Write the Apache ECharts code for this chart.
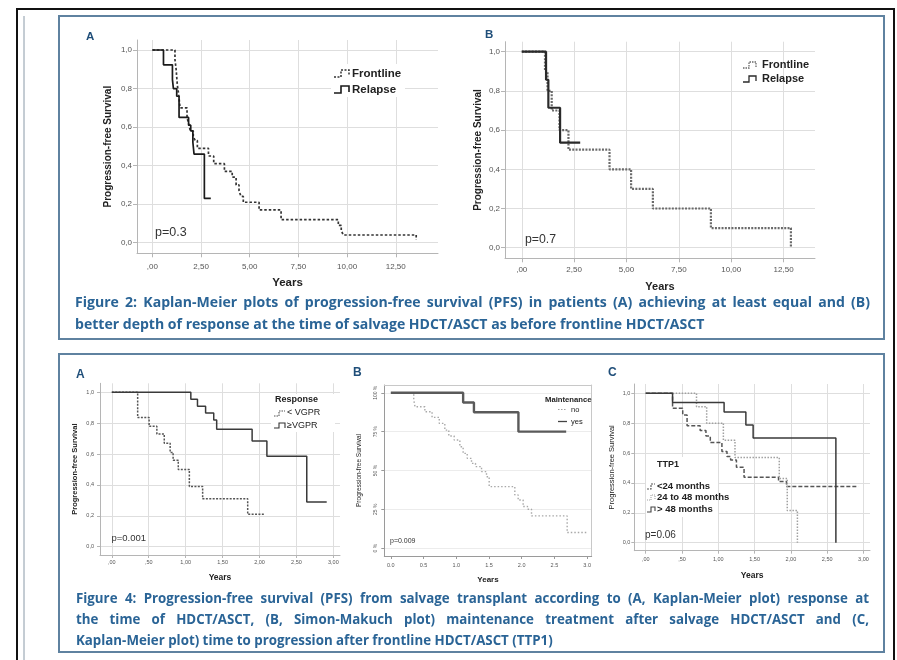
<!DOCTYPE html>
<html><head><meta charset="utf-8">
<script src="https://cdn.jsdelivr.net/npm/echarts@6/dist/echarts.min.js"></script>
<style>html,body{margin:0;padding:0;background:#fff}#c{width:897px;height:660px}</style>
</head><body><div id="c"></div>
<script>
// ---------- tick values ----------
const yearsWideTicks = [0, 2.5, 5, 7.5, 10, 12.5];
const yearsShortTicks = [0, 0.5, 1, 1.5, 2, 2.5, 3];
const survTicks = [0, 0.2, 0.4, 0.6, 0.8, 1.0];
const pctTicks = [0, 0.25, 0.5, 0.75, 1.0];

// ---------- Figure 2A : [years, survival] ----------
const fig2A_frontline = [[0,1],[1.16,0.95],[1.22,0.90],[1.28,0.82],[1.35,0.77],[1.42,0.70],[1.78,0.65],[1.88,0.61],[1.95,0.58],[2.10,0.55],[2.20,0.53],[2.31,0.49],[2.88,0.45],[3.15,0.41],[3.70,0.37],[4.10,0.34],[4.30,0.30],[4.45,0.27],[4.55,0.24],[4.67,0.21],[5.48,0.17],[6.61,0.12],[9.55,0.09],[9.70,0.065],[9.80,0.04],[13.55,0.015]];
const fig2A_relapse = [[0,1],[0.57,0.923],[1.03,0.846],[1.08,0.80],[1.25,0.76],[1.37,0.65],[1.86,0.61],[1.97,0.58],[2.08,0.52],[2.14,0.46],[2.67,0.23],[3.00,0.23]];

// ---------- Figure 2B ----------
const fig2B_frontline = [[0,1],[1.11,0.9],[1.23,0.8],[1.43,0.7],[1.80,0.6],[2.23,0.5],[4.19,0.4],[5.22,0.3],[6.26,0.2],[9.03,0.1],[12.85,0.0]];
const fig2B_relapse = [[0,1],[1.16,0.857],[1.27,0.714],[1.83,0.536],[2.79,0.536]];

// ---------- Figure 4A ----------
const fig4A_ltVGPR = [[0,1],[0.35,0.836],[0.505,0.78],[0.61,0.73],[0.71,0.67],[0.79,0.61],[0.83,0.56],[0.90,0.50],[1.05,0.39],[1.23,0.31],[1.84,0.21],[2.07,0.21]];
const fig4A_geVGPR = [[0,1],[1.07,0.955],[1.16,0.91],[1.27,0.865],[1.38,0.82],[1.42,0.76],[1.90,0.685],[2.10,0.585],[2.64,0.29],[2.91,0.29]];

// ---------- Figure 4B ----------
const fig4B_no = [[0,1],[0.35,0.955],[0.37,0.91],[0.52,0.878],[0.63,0.842],[0.74,0.803],[0.825,0.76],[0.886,0.722],[0.968,0.696],[1.055,0.653],[1.105,0.61],[1.167,0.578],[1.233,0.546],[1.294,0.525],[1.386,0.493],[1.462,0.46],[1.503,0.396],[1.895,0.343],[1.946,0.31],[2.022,0.268],[2.089,0.251],[2.15,0.208],[2.695,0.101],[2.99,0.101]];
const fig4B_yes = [[0,1],[1.105,0.9375],[1.27,0.875],[1.95,0.75],[2.68,0.75]];

// ---------- Figure 4C ----------
const fig4C_lt24 = [[0,1],[0.37,0.90],[0.51,0.855],[0.57,0.783],[0.75,0.75],[0.83,0.714],[0.89,0.67],[1.05,0.61],[1.12,0.576],[1.17,0.554],[1.25,0.504],[1.355,0.4375],[1.83,0.41],[1.94,0.375],[2.93,0.375]];
const fig4C_24to48 = [[0,1],[0.70,0.91],[0.84,0.80],[1.07,0.685],[1.23,0.57],[1.84,0.43],[1.95,0.215],[2.09,0.0]];
const fig4C_gt48 = [[0,1],[0.37,0.9375],[1.08,0.875],[1.38,0.7875],[1.48,0.70],[2.62,0.0]];

// ---------- texts ----------
const fig2Caption = ["Figure 2: Kaplan-Meier plots of progression-free survival (PFS) in patients (A) achieving at least equal and (B)",
  "better depth of response at the time of salvage HDCT/ASCT as before frontline HDCT/ASCT"];
const fig4Caption = ["Figure 4: Progression-free survival (PFS) from salvage transplant according to (A, Kaplan-Meier plot) response at",
  "the time of HDCT/ASCT, (B, Simon-Makuch plot) maintenance treatment after salvage HDCT/ASCT and (C,",
  "Kaplan-Meier plot) time to progression after frontline HDCT/ASCT (TTP1)"];

// ---------- formatters ----------
const fmtEuro2 = v => { let s = v.toFixed(2).replace('.', ','); if (s.startsWith('0,')) s = s.slice(1); return s; };
const fmtEuro1 = v => v.toFixed(1).replace('.', ',');
const fmtDot1 = v => v.toFixed(1);
const fmtPct = v => Math.round(v * 100) + ' %';

const FONT = '"Liberation Sans", Arial, sans-serif';

function xAx(gi, min, max, ticks, fmt, o) {
  return {
    type: 'value', gridIndex: gi, min, max,
    axisLine: { show: true, onZero: false, lineStyle: { color: o.axisColor || '#b5b5b5', width: 1 } },
    axisTick: { show: true, customValues: ticks, length: o.tickLen || 4, lineStyle: { color: o.axisColor || '#b5b5b5' } },
    axisLabel: { customValues: ticks, formatter: fmt, fontSize: o.fs, color: '#555', margin: o.margin, fontFamily: FONT },
    splitLine: { show: o.split !== false, lineStyle: { color: '#dedede', width: 1 } },
    name: 'Years', nameLocation: 'middle', nameGap: o.nameGap, nameMoveOverlap: false,
    nameTextStyle: { fontSize: o.nameFs, fontWeight: 'bold', color: '#222', fontFamily: FONT }
  };
}
function yAx(gi, min, max, ticks, fmt, o) {
  return {
    type: 'value', gridIndex: gi, min, max,
    axisLine: { show: true, onZero: false, lineStyle: { color: o.axisColor || '#b5b5b5', width: 1 } },
    axisTick: { show: true, customValues: ticks, length: o.tickLen || 4, lineStyle: { color: o.axisColor || '#b5b5b5' } },
    axisLabel: { customValues: ticks, formatter: fmt, fontSize: o.fs, color: '#555', margin: o.margin, rotate: o.rotate || 0, fontFamily: FONT },
    splitLine: { show: true, lineStyle: { color: '#dedede', width: 1 } },
    name: 'Progression-free Survival', nameLocation: 'middle', nameGap: o.nameGap, nameMoveOverlap: false,
    nameTextStyle: { fontSize: o.nameFs, fontWeight: o.nameBold ? 'bold' : 'normal', color: '#222', fontFamily: FONT }
  };
}
function km(gi, data, color, width, dash, z) {
  return { type: 'line', xAxisIndex: gi, yAxisIndex: gi, data, step: 'end', symbol: 'none', silent: true,
    animation: false, z: z || 2, lineStyle: { color, width, type: dash || 'solid', cap: 'butt' } };
}

// ---------- graphic helpers ----------
function T(text, x, y, size, o) {
  o = o || {};
  return { type: 'text', x, y, z: 6, silent: true,
    style: { text, fill: o.fill || '#222', font: (o.bold ? 'bold ' : '') + size + 'px ' + (o.family || FONT),
      textAlign: o.align || 'left', textVerticalAlign: 'middle' } };
}
function PL(points, color, width, dash) {
  return { type: 'polyline', z: 6, silent: true, shape: { points },
    style: { stroke: color, lineWidth: width, fill: null, lineDash: dash || null } };
}
function R(x, y, w, h, stroke, lw, fill, z) {
  return { type: 'rect', z: z || 1, silent: true, shape: { x, y, width: w, height: h },
    style: { stroke: stroke || null, lineWidth: lw || 0, fill: fill || 'transparent' } };
}
function L(x1, y1, x2, y2, color, lw) {
  return { type: 'line', z: 1, silent: true, shape: { x1, y1, x2, y2 }, style: { stroke: color, lineWidth: lw } };
}

// caption justification
const measCtx = document.createElement('canvas').getContext('2d');
const CAP_FAMILY = '"Open Sans", "Noto Sans", sans-serif';
function tw(t, s) { measCtx.font = 'bold ' + s + 'px ' + CAP_FAMILY; return measCtx.measureText(t).width; }
function caption(lines, x0, x1, ys, lastW) {
  const last = lines[lines.length - 1];
  let s = 13 * lastW / tw(last, 13);
  for (let i = 0; i < lines.length - 1; i++) {
    const words = lines[i].split(' ');
    const sum1 = words.reduce((a, w) => a + tw(w, 1), 0);
    s = Math.min(s, (x1 - x0) / (sum1 + 0.2 * (words.length - 1)));
  }
  const els = [];
  const col = '#2a6496';
  lines.forEach((ln, i) => {
    if (i === lines.length - 1) { els.push(T(ln, x0, ys[i], s, { bold: true, fill: col, family: CAP_FAMILY })); return; }
    const words = ln.split(' ');
    const ws = words.map(w => tw(w, s));
    const sum = ws.reduce((a, b) => a + b, 0);
    const gap = (x1 - x0 - sum) / (words.length - 1);
    let x = x0;
    words.forEach((w, k) => { els.push(T(w, x, ys[i], s, { bold: true, fill: col, family: CAP_FAMILY })); x += ws[k] + gap; });
  });
  return els;
}

const grids = [
  { left: 137, top: 40, width: 301, height: 213.3 },
  { left: 505, top: 41.7, width: 310, height: 216.6 },
  { left: 100, top: 383.3, width: 240, height: 171.7 },
  { left: 384.3, top: 385, width: 207.4, height: 171 },
  { left: 634.3, top: 384, width: 235.7, height: 166.7 }
].map(g => Object.assign({ containLabel: false, outerBoundsMode: 'none' }, g));

const xAxes = [
  xAx(0, -0.79, 14.67, yearsWideTicks, fmtEuro2, { fs: 8, margin: 9, nameGap: 24, nameFs: 11.5 }),
  xAx(1, -0.80, 14.0, yearsWideTicks, fmtEuro2, { fs: 8, margin: 7, nameGap: 23, nameFs: 11 }),
  xAx(2, -0.16, 3.09, yearsShortTicks, fmtEuro2, { fs: 5.5, margin: 4, nameGap: 18, nameFs: 8.5, tickLen: 3 }),
  xAx(3, -0.10, 3.07, yearsShortTicks, fmtDot1, { fs: 5.5, margin: 6, nameGap: 20, nameFs: 8, split: false, axisColor: '#9a9a9a', tickLen: 3 }),
  xAx(4, -0.157, 3.09, yearsShortTicks, fmtEuro2, { fs: 5.5, margin: 6, nameGap: 20, nameFs: 8.5, tickLen: 3 }),
  // frame top for 4B
  { type: 'value', gridIndex: 3, position: 'top', min: -0.10, max: 3.07, axisLine: { show: true, onZero: false, lineStyle: { color: '#c8c8c8' } },
    axisTick: { show: false }, axisLabel: { show: false }, splitLine: { show: false } }
];
const yAxes = [
  yAx(0, -0.055, 1.052, survTicks, fmtEuro1, { fs: 8, margin: 5, nameGap: 24, nameFs: 10, nameBold: true }),
  yAx(1, -0.054, 1.051, survTicks, fmtEuro1, { fs: 8, margin: 5, nameGap: 22, nameFs: 10, nameBold: true }),
  yAx(2, -0.054, 1.058, survTicks, fmtEuro1, { fs: 5.5, margin: 6, nameGap: 21, nameFs: 7.5, nameBold: true, tickLen: 3 }),
  yAx(3, -0.05, 1.05, pctTicks, fmtPct, { fs: 5, margin: 6, nameGap: 22, nameFs: 6.5, rotate: 90, axisColor: '#9a9a9a', tickLen: 3 }),
  yAx(4, -0.054, 1.062, survTicks, fmtEuro1, { fs: 5.5, margin: 4, nameGap: 18, nameFs: 7.5, tickLen: 3 }),
  { type: 'value', gridIndex: 3, position: 'right', min: -0.05, max: 1.05, axisLine: { show: true, onZero: false, lineStyle: { color: '#c8c8c8' } },
    axisTick: { show: false }, axisLabel: { show: false }, splitLine: { show: false } }
];
yAxes[3].splitLine.lineStyle.color = '#ececec';

const series = [
  km(0, fig2A_frontline, '#333', 1.7, [2.5, 2]),
  km(0, fig2A_relapse, '#1a1a1a', 1.7, 'solid', 3),
  km(1, fig2B_frontline, '#6a6a6a', 2.2, [2, 1.3]),
  km(1, fig2B_relapse, '#2a2a2a', 2.2, 'solid', 3),
  km(2, fig4A_ltVGPR, '#555', 1.5, [2, 1.4]),
  km(2, fig4A_geVGPR, '#3a3a3a', 1.5),
  km(3, fig4B_no, '#a8a8a8', 1.4, [1.5, 2]),
  km(3, fig4B_yes, '#5a5a5a', 2.4, 'solid', 3),
  km(4, fig4C_lt24, '#555', 1.5, [4, 2]),
  km(4, fig4C_24to48, '#a0a0a0', 1.5, [1.5, 1.5]),
  km(4, fig4C_gt48, '#3a3a3a', 1.5, 'solid', 3)
];

const graphics = [
  // frames
  R(17, 9, 877, 660, '#111', 2, null, 0),
  L(24, 16, 24, 660, '#8a9aa8', 1),
  R(59, 16, 825, 323, '#5f82a0', 2, null, 0),
  R(59, 354, 825, 298, '#5f82a0', 2, null, 0),
  // panel letters
  T('A', 86, 36.5, 11.5, { bold: true, fill: '#1f4e79' }),
  T('B', 485, 35, 11.5, { bold: true, fill: '#1f4e79' }),
  T('A', 76, 375, 12, { bold: true, fill: '#1f4e79' }),
  T('B', 353, 373, 12, { bold: true, fill: '#1f4e79' }),
  T('C', 608, 373, 12, { bold: true, fill: '#1f4e79' }),
  // legend 2A
  R(331, 64, 74, 33, null, 0, '#fff', 1),
  PL([[334, 77], [341, 77], [341, 70], [349, 70], [349, 76]], '#333', 1.5, [2, 1.5]),
  T('Frontline', 352, 73.5, 11.5, { bold: true }),
  PL([[334, 93], [341, 93], [341, 86], [349, 86], [349, 92]], '#1a1a1a', 1.6),
  T('Relapse', 352, 90, 11.5, { bold: true }),
  // legend 2B
  PL([[743, 68], [749, 68], [749, 62], [756, 62], [756, 67]], '#6a6a6a', 1.3, [1.5, 1]),
  T('Frontline', 762, 64.5, 11, { bold: true }),
  PL([[743, 82], [749, 82], [749, 76], [756, 76], [756, 81]], '#2a2a2a', 1.3),
  T('Relapse', 762, 78.5, 11, { bold: true }),
  // legend 4A
  R(271, 394, 64, 38, null, 0, '#fff', 1),
  T('Response', 275, 399.5, 9, { bold: true }),
  PL([[274, 416], [279, 416], [279, 411], [285, 411]], '#555', 1.1, [1.5, 1]),
  T('< VGPR', 287, 413, 9),
  PL([[274, 428], [279, 428], [279, 423], [285, 423], [285, 428]], '#333', 1.1),
  T('\u2265VGPR', 287, 425.5, 9),
  // legend 4B
  T('Maintenance', 545, 399.5, 7.7, { bold: true }),
  PL([[558, 409.5], [567, 409.5]], '#a0a0a0', 1.2, [1.5, 1.5]),
  T('no', 571, 409.5, 7.5),
  PL([[558, 421.5], [567, 421.5]], '#444', 1.3),
  T('yes', 571, 421.5, 7.5),
  // legend 4C
  R(646, 457, 72, 60, null, 0, '#fff', 1),
  T('TTP1', 657, 465, 9, { bold: true }),
  PL([[647, 489], [651, 489], [651, 484], [655, 484]], '#555', 1.1, [2, 1]),
  T('<24 months', 657, 486, 9.5, { bold: true }),
  PL([[647, 500], [651, 500], [651, 495], [655, 495], [655, 499]], '#a0a0a0', 1.1, [1, 1]),
  T('24 to 48 months', 657, 497.5, 9.5, { bold: true }),
  PL([[647, 512], [651, 512], [651, 507], [655, 507], [655, 511]], '#444', 1.1),
  T('> 48 months', 657, 509.5, 9.5, { bold: true }),
  // p-values
  T('p=0.3', 155, 232.5, 12.5, { fill: '#333' }),
  T('p=0.7', 525, 240, 12.3, { fill: '#333' }),
  T('p=0.001', 111.5, 538.5, 9.5, { fill: '#333' }),
  T('p=0.009', 390, 541.5, 7, { fill: '#333' }),
  T('p=0.06', 645, 535.5, 10, { fill: '#333' })
].concat(
  caption(fig2Caption, 75, 870, [303, 325], 630),
  caption(fig4Caption, 76, 869, [599.5, 620.5, 641.5], 477)
);

const chart = echarts.init(document.getElementById('c'), null, { renderer: 'canvas', width: 897, height: 660 });
chart.setOption({
  animation: false,
  backgroundColor: '#fff',
  textStyle: { fontFamily: FONT },
  grid: grids,
  xAxis: xAxes,
  yAxis: yAxes,
  series,
  graphic: { elements: graphics }
});
</script></body></html>
